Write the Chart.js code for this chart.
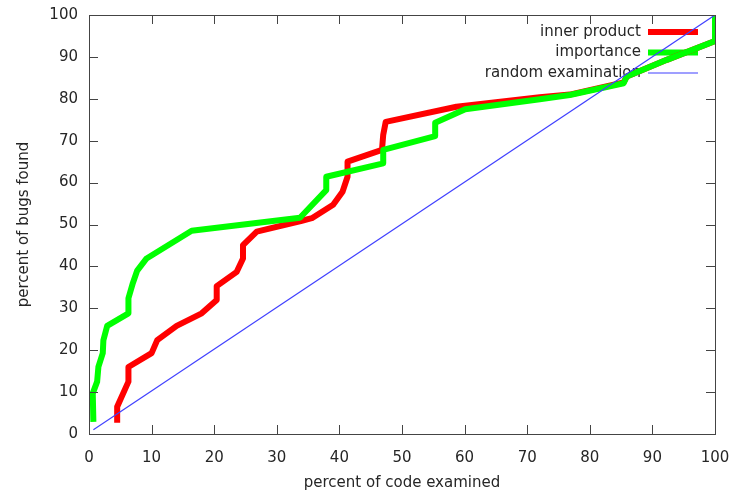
<!DOCTYPE html>
<html>
<head>
<meta charset="utf-8">
<script src="https://cdn.jsdelivr.net/npm/chart.js@4"></script>
<style>
  html, body { margin: 0; padding: 0; background: #fff; }
  #wrap { width: 732px; height: 495px; }
</style>
</head>
<body>
<div id="wrap"><canvas id="chart" width="732" height="495"></canvas></div>
<script>
// percent of code examined (x) vs percent of bugs found (y)
const innerX = [4.5, 4.5, 6.3, 6.3, 10.0, 10.9, 14.0, 18.0, 20.4, 20.4, 23.6, 24.6, 24.6, 26.8, 34.0, 35.6, 39.0, 40.5, 41.3, 41.3, 46.8, 47.0, 47.4, 58.7, 72.0, 76.8, 85.4, 85.9, 92.3, 100, 100];
const innerY = [2.7, 6.5, 12.5, 16.0, 19.3, 22.4, 25.8, 28.8, 32.0, 35.3, 38.7, 41.9, 45.1, 48.3, 50.9, 51.5, 54.7, 57.8, 61.4, 65.0, 67.8, 71.4, 74.5, 78.1, 80.4, 81.0, 83.9, 85.3, 89.3, 93.8, 100];

const importanceX = [0.7, 0.6, 1.3, 1.5, 2.2, 2.3, 2.9, 6.3, 6.3, 7.0, 7.7, 9.2, 12.7, 16.4, 33.7, 37.9, 37.9, 47.0, 47.0, 55.3, 55.3, 60.1, 72.0, 76.8, 85.4, 85.9, 92.3, 100, 100];
const importanceY = [2.9, 9.7, 12.5, 16.0, 19.3, 22.4, 25.8, 28.8, 32.4, 36.0, 39.0, 41.9, 45.1, 48.5, 51.6, 58.2, 61.4, 64.6, 67.8, 71.1, 74.3, 77.5, 79.9, 80.9, 83.7, 85.3, 89.3, 93.8, 100];

const randomX = [0.7, 100];
const randomY = [1, 100];

const seriesNames = ['inner product', 'importance', 'random examination'];
const seriesColors = ['#ff0000', '#00ff00', '#4040ff'];
const seriesWidths = [6, 6, 1.2];

const textColor = '#262626';
const frameColor = '#444444';
const fontFamily = "'DejaVu Sans', sans-serif";

function toPoints(xs, ys) {
    return xs.map((x, i) => ({ x: x, y: ys[i] }));
}

// gnuplot style frame with inward ticks on all four sides
const framePlugin = {
    id: 'frame',
    afterDraw: function(chart) {
        const ctx = chart.ctx;
        const a = chart.chartArea;
        const len = 9;
        ctx.save();
        ctx.strokeStyle = frameColor;
        ctx.lineWidth = 1;
        ctx.beginPath();
        chart.scales.x.ticks.forEach(t => {
            const px = Math.round(chart.scales.x.getPixelForValue(t.value)) + 0.5;
            ctx.moveTo(px, a.bottom); ctx.lineTo(px, a.bottom - len);
            ctx.moveTo(px, a.top); ctx.lineTo(px, a.top + len);
        });
        chart.scales.y.ticks.forEach(t => {
            const py = Math.round(chart.scales.y.getPixelForValue(t.value)) + 0.5;
            ctx.moveTo(a.left, py); ctx.lineTo(a.left + len, py);
            ctx.moveTo(a.right, py); ctx.lineTo(a.right - len, py);
        });
        ctx.stroke();
        ctx.strokeRect(Math.round(a.left) + 0.5, Math.round(a.top) + 0.5,
            Math.round(a.right - a.left), Math.round(a.bottom - a.top));
        ctx.restore();
    }
};

// key in the top right corner, text right aligned, sample on the right
const keyPlugin = {
    id: 'key',
    beforeDatasetsDraw: function(chart) {
        const ctx = chart.ctx;
        const a = chart.chartArea;
        const textRight = a.right - 74;
        const sampleStart = a.right - 67;
        const sampleEnd = a.right - 17;
        ctx.save();
        ctx.font = '15px ' + fontFamily;
        ctx.textAlign = 'right';
        ctx.textBaseline = 'middle';
        seriesNames.forEach((name, i) => {
            const y = a.top + 17 + i * 20.5;
            ctx.fillStyle = textColor;
            ctx.fillText(name, textRight, y);
            ctx.strokeStyle = seriesColors[i];
            ctx.lineWidth = seriesWidths[i];
            ctx.beginPath();
            ctx.moveTo(sampleStart, y);
            ctx.lineTo(sampleEnd, y);
            ctx.stroke();
        });
        ctx.restore();
    }
};

Chart.defaults.font.family = fontFamily;
Chart.defaults.font.size = 15;
Chart.defaults.color = textColor;

new Chart(document.getElementById('chart').getContext('2d'), {
    type: 'scatter',
    data: {
        datasets: [
            {
                label: seriesNames[0],
                data: toPoints(innerX, innerY),
                showLine: true,
                borderColor: seriesColors[0],
                borderWidth: seriesWidths[0],
                pointRadius: 0,
                borderJoinStyle: 'round',
                order: 3
            },
            {
                label: seriesNames[1],
                data: toPoints(importanceX, importanceY),
                showLine: true,
                borderColor: seriesColors[1],
                borderWidth: seriesWidths[1],
                pointRadius: 0,
                borderJoinStyle: 'round',
                order: 2
            },
            {
                label: seriesNames[2],
                data: toPoints(randomX, randomY),
                showLine: true,
                borderColor: seriesColors[2],
                borderWidth: seriesWidths[2],
                pointRadius: 0,
                order: 1
            }
        ]
    },
    options: {
        responsive: false,
        animation: false,
        layout: { padding: { top: 15, right: 17, left: 0, bottom: 0 } },
        plugins: {
            legend: { display: false },
            tooltip: { enabled: false }
        },
        scales: {
            x: {
                type: 'linear',
                min: 0,
                max: 100,
                grid: { display: false, drawTicks: false },
                border: { display: false },
                ticks: { stepSize: 10, padding: 15, maxRotation: 0 },
                title: { display: true, text: 'percent of code examined', padding: { top: 3, bottom: 3 } },
                afterFit: function(scale) {
                    scale.height = 61;
                    scale.paddingLeft = 0;
                    scale.paddingRight = 0;
                }
            },
            y: {
                type: 'linear',
                min: 0,
                max: 100,
                grid: { display: false, drawTicks: false },
                border: { display: false },
                ticks: { stepSize: 10, padding: 11 },
                title: { display: true, text: 'percent of bugs found', padding: { top: 15, bottom: 15 } },
                afterFit: function(scale) {
                    scale.width = 89;
                    scale.paddingTop = 0;
                    scale.paddingBottom = 0;
                }
            }
        }
    },
    plugins: [framePlugin, keyPlugin]
});
</script>
</body>
</html>
